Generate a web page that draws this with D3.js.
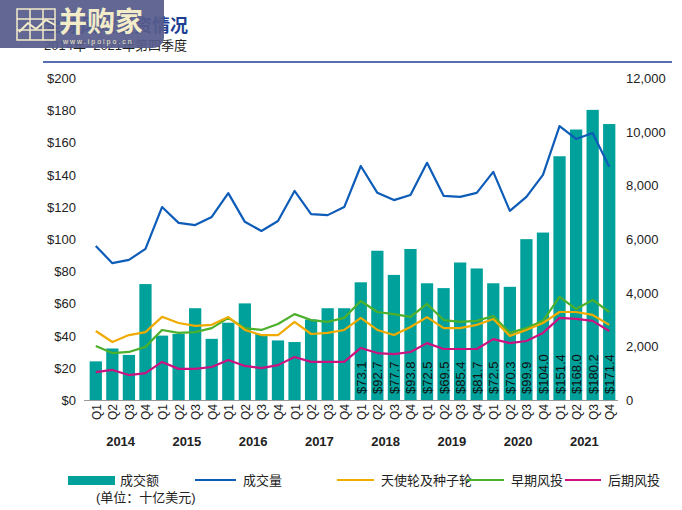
<!doctype html>
<html>
<head>
<meta charset="utf-8">
<style>
body{margin:0;background:#fff;font-family:"Liberation Sans",Arial,"Noto Sans CJK SC",sans-serif;}
</style>
</head>
<body>
<div id="chart"></div>
<script src="https://cdn.jsdelivr.net/npm/d3@7"></script>
<script>
var years = ["2014","2015","2016","2017","2018","2019","2020","2021"];
var quarters = ["Q1","Q2","Q3","Q4"];
var amount = [24,32,28,72, 40,41,57,38, 48,60,41,37, 36,50,57,57,
  73.1,92.7,77.7,93.8, 72.5,69.5,85.4,81.7, 72.5,70.3,99.9,104.0, 151.4,168.0,180.2,171.4];
var dealCount = [5740,5100,5220,5630, 7190,6600,6520,6820, 7710,6640,6300,6670, 7790,6930,6890,7190,
  8720,7720,7450,7640, 8840,7610,7570,7720, 8500,7050,7570,8390, 10210,9730,9950,8690];
var angelSeed = [2570,2160,2420,2530, 3100,2870,2760,2800, 3090,2610,2420,2420, 2910,2460,2500,2610,
  3060,2610,2420,2720, 3090,2680,2680,2800, 3020,2390,2610,2870, 3280,3280,3170,2800];
var earlyVC = [2010,1750,1790,1980, 2610,2500,2530,2680, 3060,2680,2610,2830, 3200,2980,2910,3060,
  3690,3280,3200,3100, 3580,2980,2910,2950, 3130,2500,2680,2950, 3840,3390,3730,3280];
var lateVC = [1040,1120,930,1000, 1420,1160,1160,1230, 1490,1270,1190,1300, 1600,1420,1420,1420,
  1940,1750,1710,1790, 2120,1900,1900,1900, 2270,2120,2200,2500, 3060,3020,2950,2570];
var leftTicks = [0,20,40,60,80,100,120,140,160,180,200];
var rightTicks = [0,2000,4000,6000,8000,10000,12000];
var labelFrom = 16;

var W = 682, H = 510;
var svg = d3.select("#chart").append("svg").attr("width", W).attr("height", H);

var keys = [];
years.forEach(function(y){ quarters.forEach(function(q){ keys.push(y + q); }); });

var x = d3.scaleBand().domain(keys).range([88, 617]).paddingInner(0.26).paddingOuter(0.1);
var yL = d3.scaleLinear().domain([0,200]).range([400,78]);
var yR = d3.scaleLinear().domain([0,12000]).range([400,78]);
var cx = function(i){ return x(keys[i]) + x.bandwidth()/2; };

// header
svg.append("text").attr("x", 44).attr("y", 32).attr("font-size", 18).attr("font-weight", "bold")
  .attr("fill", "#1f3f93").text("全球风险投资情况");
svg.append("text").attr("x", 44).attr("y", 50).attr("font-size", 13).attr("fill", "#222")
  .text("2014年–2021年第四季度");
svg.append("line").attr("x1", 43).attr("x2", 672).attr("y1", 62).attr("y2", 62)
  .attr("stroke", "#1f3f93").attr("stroke-width", 1.5);

// watermark
var wm = svg.append("g");
wm.append("rect").attr("x", -10).attr("y", -10).attr("width", 174).attr("height", 58).attr("rx", 11)
  .attr("fill", "#565b8c").attr("opacity", 0.93);
var grid = wm.append("g").attr("stroke", "#f3ecc8").attr("stroke-width", 1.5).attr("fill", "none");
grid.append("rect").attr("x", 17).attr("y", 9).attr("width", 38).attr("height", 31);
[30, 43].forEach(function(v){ grid.append("line").attr("x1", v).attr("x2", v).attr("y1", 9).attr("y2", 40); });
[19, 30].forEach(function(v){ grid.append("line").attr("x1", 17).attr("x2", 55).attr("y1", v).attr("y2", v); });
grid.append("path").attr("d", "M19,32 L28,23 L36,29 L46,20 L55,25").attr("stroke-width", 2);
wm.append("text").attr("x", 59).attr("y", 32).attr("font-size", 28).attr("font-weight", "bold")
  .attr("fill", "#f3ecc8").text("并购家");
wm.append("text").attr("x", 63).attr("y", 44).attr("font-size", 7).attr("fill", "#f3ecc8")
  .attr("letter-spacing", 2).text("www.ipoipo.cn");

// axes labels
svg.append("g").selectAll("text").data(leftTicks).join("text")
  .attr("x", 76).attr("y", function(d){ return yL(d) + 5; }).attr("text-anchor", "end")
  .attr("font-size", 13).attr("fill", "#222").text(function(d){ return "$" + d; });
svg.append("g").selectAll("text").data(rightTicks).join("text")
  .attr("x", 626).attr("y", function(d){ return yR(d) + 5; })
  .attr("font-size", 13).attr("fill", "#222").text(d3.format(","));

// bars
svg.append("g").selectAll("rect").data(amount).join("rect")
  .attr("x", function(d,i){ return x(keys[i]); }).attr("width", x.bandwidth())
  .attr("y", function(d){ return yL(d); }).attr("height", function(d){ return yL(0) - yL(d); })
  .attr("fill", "#00a19b");

// value labels
svg.append("g").selectAll("text").data(amount.slice(labelFrom)).join("text")
  .attr("transform", function(d,i){ return "translate(" + (cx(i + labelFrom) + 5) + ",394) rotate(-90)"; })
  .attr("font-size", 13).attr("fill", "#111").text(function(d){ return "$" + d.toFixed(1); });

svg.append("line").attr("x1", 84).attr("x2", 618).attr("y1", 400.5).attr("y2", 400.5)
  .attr("stroke", "#999");

// lines
var series = [
  {data: dealCount, color: "#0d5cb8"},
  {data: angelSeed, color: "#f0ab00"},
  {data: earlyVC, color: "#4bb02b"},
  {data: lateVC, color: "#cc1280"}
];
var line = d3.line().x(function(d,i){ return cx(i); }).y(function(d){ return yR(d); });
series.slice().reverse().forEach(function(s){
  svg.append("path").datum(s.data).attr("d", line).attr("fill", "none")
    .attr("stroke", s.color).attr("stroke-width", 2.2).attr("stroke-linejoin", "round");
});

// quarter and year labels
svg.append("g").selectAll("text").data(keys).join("text")
  .attr("transform", function(d,i){ return "translate(" + (cx(i) + 5) + ",404) rotate(-90)"; })
  .attr("text-anchor", "end").attr("font-size", 12).attr("fill", "#222")
  .text(function(d){ return d.slice(4); });
svg.append("g").selectAll("text").data(years).join("text")
  .attr("x", function(d,i){ return (cx(i*4) + cx(i*4 + 3)) / 2; }).attr("y", 446)
  .attr("text-anchor", "middle").attr("font-size", 13).attr("font-weight", "bold").attr("fill", "#222")
  .text(function(d){ return d; });

// legend
var lg = svg.append("g").attr("font-size", 13).attr("fill", "#222");
lg.append("rect").attr("x", 68).attr("y", 476).attr("width", 47).attr("height", 9).attr("fill", "#00a19b");
lg.append("text").attr("x", 120).attr("y", 485).text("成交额");
lg.append("text").attr("x", 96).attr("y", 502).text("(单位：十亿美元)");
var items = [
  {x: 195, w: 41, label: "成交量", color: series[0].color},
  {x: 337, w: 37, label: "天使轮及种子轮", color: series[1].color},
  {x: 467, w: 37, label: "早期风投", color: series[2].color},
  {x: 565, w: 36, label: "后期风投", color: series[3].color}
];
items.forEach(function(it){
  lg.append("line").attr("x1", it.x).attr("x2", it.x + it.w).attr("y1", 480).attr("y2", 480)
    .attr("stroke", it.color).attr("stroke-width", 2.2);
  lg.append("text").attr("x", it.x + it.w + 7).attr("y", 485).text(it.label);
});
</script>
</body>
</html>
